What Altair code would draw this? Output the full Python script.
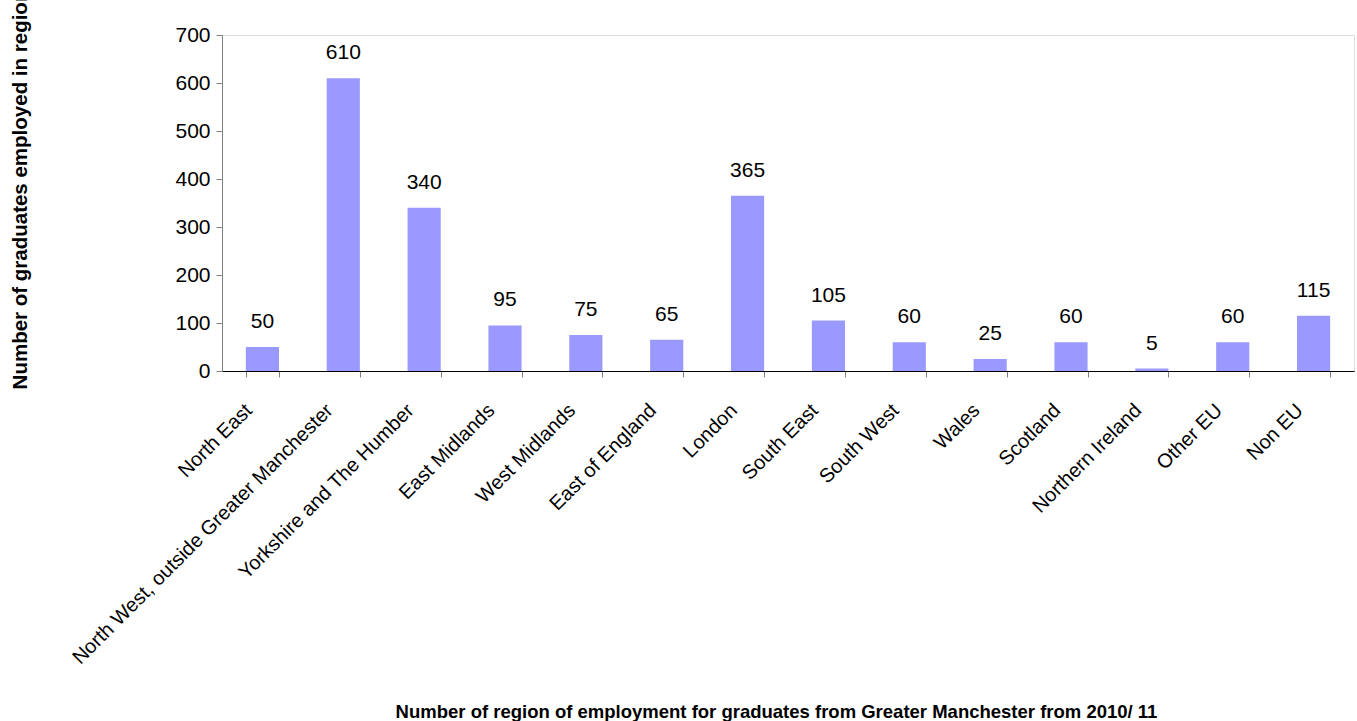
import altair as alt
import pandas as pd

regions = ["North East", "North West, outside Greater Manchester", "Yorkshire and The Humber",
           "East Midlands", "West Midlands", "East of England", "London", "South East",
           "South West", "Wales", "Scotland", "Northern Ireland", "Other EU", "Non EU"]
values = [50, 610, 340, 95, 75, 65, 365, 105, 60, 25, 60, 5, 60, 115]

df = pd.DataFrame({"region": regions, "value": values})

FONT = "Liberation Sans"
W, H = 1132, 336

x = alt.X("region:N", sort=regions,
          scale=alt.Scale(paddingInner=0.59, paddingOuter=0.295),
          axis=alt.Axis(title="Number of region of employment for graduates from Greater Manchester from 2010/ 11",
                        labelAngle=-45, labelAlign="right", labelBaseline="middle",
                        labelPadding=30, labelOffset=-14, labelFontSize=20, labelFont=FONT,
                        labelColor="black", labelLimit=600,
                        tickBand="extent", tickColor="#808080", tickSize=6,
                        domainColor="black", domainWidth=1.2,
                        titleFont=FONT, titleFontSize=18.5, titleFontWeight="bold",
                        titleX=554, titleY=340, titleAlign="center", titleBaseline="middle",
                        titleAnchor="start"))
y = alt.Y("value:Q", scale=alt.Scale(domain=[0, 700]),
          axis=alt.Axis(title="Number of  graduates employed in region", values=list(range(0, 701, 100)),
                        grid=False, labelFontSize=21, labelFont=FONT, labelColor="black",
                        labelPadding=6, tickColor="#808080", tickSize=6,
                        domainColor="#808080",
                        titleFont=FONT, titleFontSize=20.5, titleFontWeight="bold",
                        titleAngle=-90, titleX=-202, titleY=154, titleAlign="center",
                        titleBaseline="middle", titleAnchor="start"))

bars = alt.Chart(df).mark_bar(color="#9999FF").encode(x=x, y=y)
labels = alt.Chart(df).mark_text(font=FONT, fontSize=21, baseline="middle", dy=-25, color="black").encode(
    x=alt.X("region:N", sort=regions), y="value:Q", text="value:Q")

chart = (bars + labels).properties(
    width=W, height=H,
    autosize=alt.AutoSizeParams(type="none"),
    padding={"left": 222, "top": 35, "right": 3, "bottom": 350},
).configure_view(stroke=None).configure(background="white")

chart.save("out.html", embed_options={"renderer": "svg", "actions": False})
